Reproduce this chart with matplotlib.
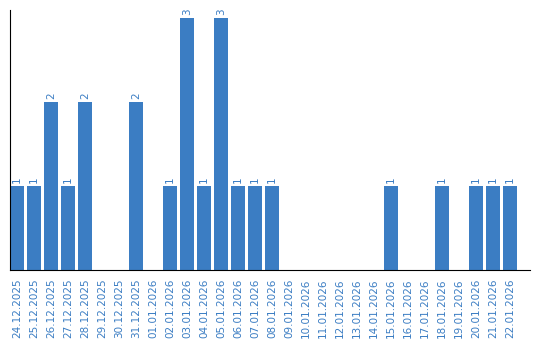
import matplotlib
matplotlib.use("Agg")
import matplotlib.pyplot as plt

dates = ["24.12.2025", "25.12.2025", "26.12.2025", "27.12.2025", "28.12.2025",
         "29.12.2025", "30.12.2025", "31.12.2025", "01.01.2026", "02.01.2026",
         "03.01.2026", "04.01.2026", "05.01.2026", "06.01.2026", "07.01.2026",
         "08.01.2026", "09.01.2026", "10.01.2026", "11.01.2026", "12.01.2026",
         "13.01.2026", "14.01.2026", "15.01.2026", "16.01.2026", "17.01.2026",
         "18.01.2026", "19.01.2026", "20.01.2026", "21.01.2026", "22.01.2026"]
counts = [1, 1, 2, 1, 2, 0, 0, 2, 0, 1,
          3, 1, 3, 1, 1, 1, 0, 0, 0, 0,
          0, 0, 1, 0, 0, 1, 0, 1, 1, 1]

blue = "#3b7dc3"

fig = plt.figure(figsize=(5.4, 3.4), dpi=100)
ax = fig.add_axes([10 / 540, 70 / 340, 520 / 540, 260 / 340])

x = list(range(len(dates)))
ax.bar(x, counts, width=14 / 17, color=blue)
for i, c in enumerate(counts):
    if c > 0:
        ax.text(i, c + 0.03, str(c), rotation=90, ha="center", va="bottom",
                color=blue, fontsize=7.5)

ax.set_xlim(-7 / 17, 520 / 17 - 7 / 17)
ax.set_ylim(0, 260 / 84)
ax.set_xticks(x)
ax.set_xticklabels(dates, rotation=90, color=blue, fontsize=7.5)
ax.tick_params(axis="x", length=0, pad=6)
ax.set_yticks([])
ax.spines["top"].set_visible(False)
ax.spines["right"].set_visible(False)

fig.savefig("out.png", dpi=100)
